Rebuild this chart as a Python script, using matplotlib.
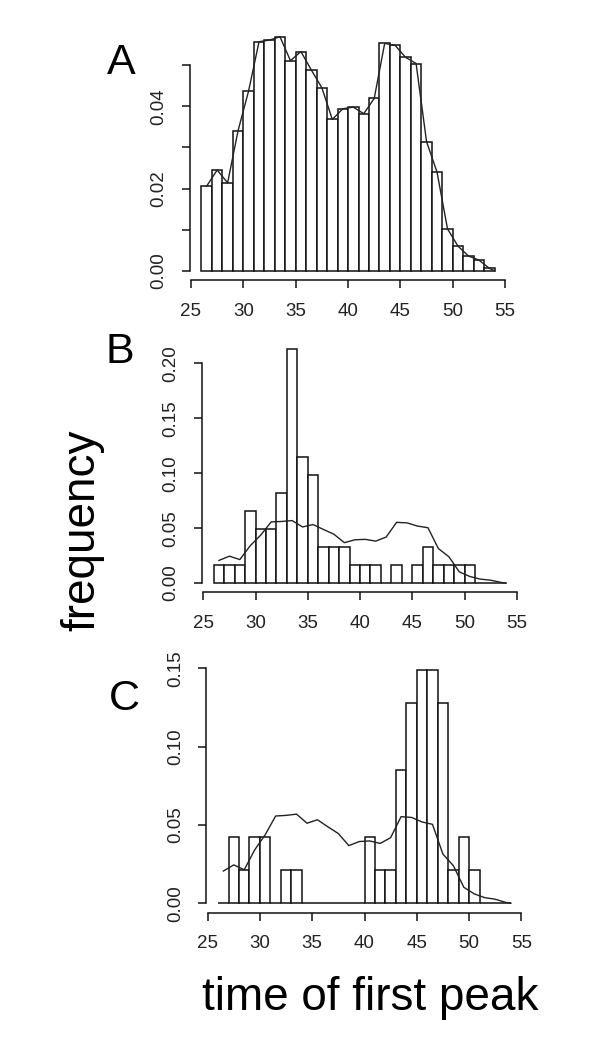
#!/usr/bin/env python3
"""Histograms of time of first peak (panels A-C) with the pooled frequency curve."""

import matplotlib

matplotlib.use("Agg")
import matplotlib.pyplot as plt

plt.rcParams["font.family"] = ["Liberation Sans", "DejaVu Sans"]

# ------------------------------------------------------------------ #
# Data
# ------------------------------------------------------------------ #

bin_left = [26, 27, 28, 29, 30, 31, 32, 33, 34, 35, 36, 37, 38, 39,
            40, 41, 42, 43, 44, 45, 46, 47, 48, 49, 50, 51, 52, 53]

# panel A: all cells
freq_all = [0.0206, 0.0245, 0.0214, 0.0341, 0.0437, 0.0557, 0.0561, 0.0569,
            0.0511, 0.0533, 0.0488, 0.0445, 0.0368, 0.0394, 0.0398, 0.0382,
            0.0419, 0.0553, 0.0548, 0.0519, 0.0504, 0.0314, 0.0240, 0.0102,
            0.0060, 0.0036, 0.0026, 0.0006]

# panel B
freq_b = [0.0164, 0.0164, 0.0164, 0.0656, 0.0492, 0.0492, 0.0820, 0.2131,
          0.1148, 0.0984, 0.0328, 0.0328, 0.0328, 0.0164, 0.0164, 0.0164,
          0.0, 0.0164, 0.0, 0.0164, 0.0328, 0.0164, 0.0164, 0.0164,
          0.0164, 0.0, 0.0, 0.0]

# panel C
freq_c = [0.0, 0.0426, 0.0213, 0.0426, 0.0426, 0.0, 0.0213, 0.0213,
          0.0, 0.0, 0.0, 0.0, 0.0, 0.0, 0.0426, 0.0213,
          0.0213, 0.0851, 0.1277, 0.1489, 0.1489, 0.1277, 0.0213, 0.0426,
          0.0213, 0.0, 0.0, 0.0]

# pooled curve drawn over every panel
curve_x = [b + 0.5 for b in bin_left] + [54.0]
curve_y = freq_all + [0.0]

x_ticks = [25, 30, 35, 40, 45, 50, 55]

panels = [
    # letter, values, y ticks, y tick labels, axes rect, letter position (px)
    ("A", freq_all, [0, 0.01, 0.02, 0.03, 0.04, 0.05],
     ["0.00", "", "0.02", "", "0.04", ""],
     [0.3162, 0.7314, 0.5277, 0.2423], (121, 63)),
    ("B", freq_b, [0, 0.05, 0.10, 0.15, 0.20],
     ["0.00", "0.05", "0.10", "0.15", "0.20"],
     [0.3367, 0.4320, 0.5267, 0.2423], (120, 352)),
    ("C", freq_c, [0, 0.05, 0.10, 0.15],
     ["0.00", "0.05", "0.10", "0.15"],
     [0.3440, 0.1250, 0.5270, 0.2416], (124, 699)),
]

W, H = 600, 1043
LW = 1.1


def plot_panel(fig, letter, values, yticks, ylabels, rect, letter_xy):
    ax = fig.add_axes(rect)
    ax.bar(bin_left, values, width=1.0, align="edge", color="white",
           edgecolor="#111111", linewidth=LW)
    ax.plot(curve_x, curve_y, color="#222222", linewidth=1.0)

    # R-style limits: 4% padding, detached-looking axes
    top = max(values)
    ax.set_xlim(24.88, 55.12)
    ax.set_ylim(-0.04 * top, 1.04 * top)

    for side in ("top", "right"):
        ax.spines[side].set_visible(False)
    ax.spines["left"].set_bounds(yticks[0], yticks[-1])
    ax.spines["bottom"].set_bounds(x_ticks[0], x_ticks[-1])
    for side in ("left", "bottom"):
        ax.spines[side].set_linewidth(LW)
        ax.spines[side].set_color("#111111")

    ax.set_xticks(x_ticks)
    ax.set_xticklabels([str(t) for t in x_ticks])
    ax.set_yticks(yticks)
    ax.set_yticklabels(ylabels, rotation=90, va="center")
    ax.tick_params(direction="out", length=5.8, width=LW, pad=10.5,
                   labelsize=13.5, labelcolor="#222222", color="#111111")

    fig.text(letter_xy[0] / W, 1 - letter_xy[1] / H, letter,
             fontsize=31, ha="center", va="center")
    return ax


def main():
    fig = plt.figure(figsize=(6.0, 10.43), dpi=100)
    for letter, values, yticks, ylabels, rect, pos in panels:
        plot_panel(fig, letter, values, yticks, ylabels, rect, pos)

    fig.text(82.5 / W, 1 - 530 / H, "frequency", rotation=90,
             fontsize=33, ha="center", va="center")
    fig.text(370 / W, 1 - 997.5 / H, "time of first peak",
             fontsize=33, ha="center", va="center")

    fig.savefig("out.png", dpi=100)
    plt.close(fig)


if __name__ == "__main__":
    main()
